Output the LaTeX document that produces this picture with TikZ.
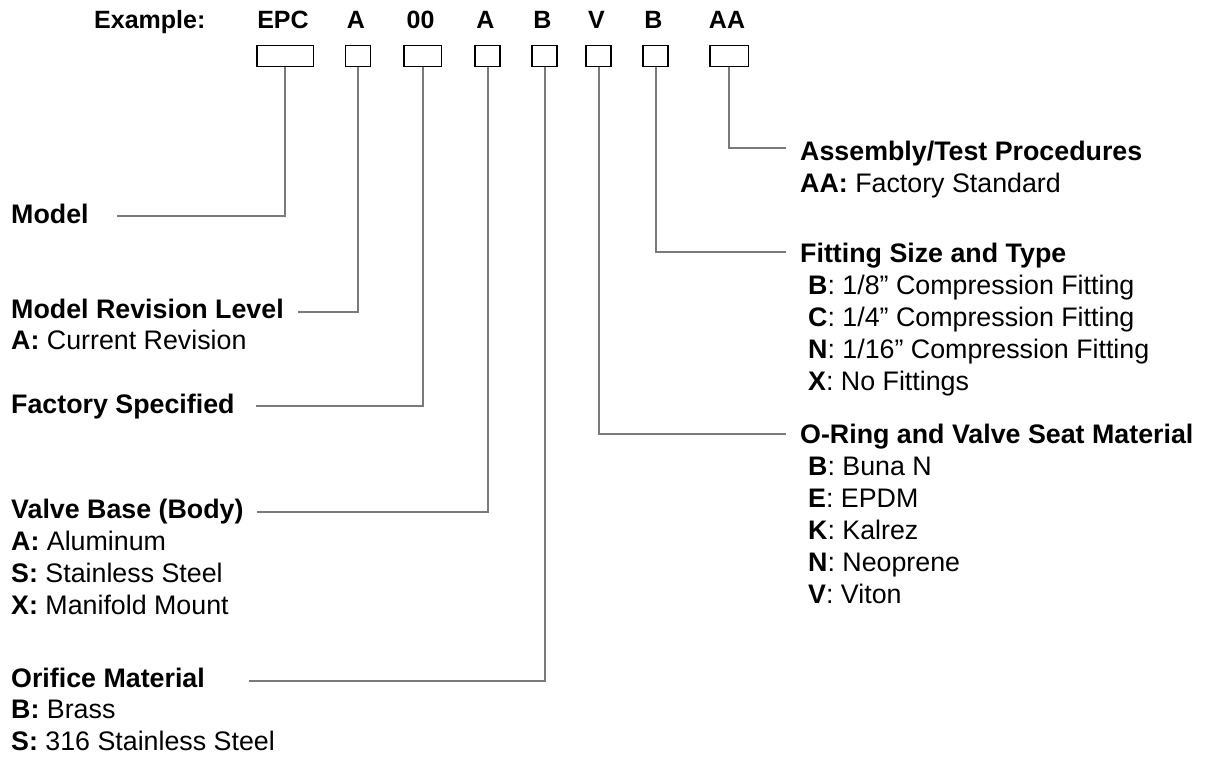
\documentclass[tikz,border=0pt]{standalone}
\usepackage{fontspec}
\setmainfont{Liberation Sans}
\definecolor{leadgray}{HTML}{7A7A7A}
\tikzset{
  code/.style={draw=black,line width=1.5pt,minimum height=21pt,inner sep=0pt},
  head/.style={font=\fontsize{25}{29}\selectfont\bfseries,anchor=base,inner sep=0pt},
  title/.style={font=\fontsize{26.8}{32}\selectfont\bfseries,anchor=base west,inner sep=0pt},
  item/.style={font=\fontsize{26.8}{32}\selectfont,anchor=base west,inner sep=0pt},
  lead/.style={draw=leadgray,line width=2pt},
}
\begin{document}
\begin{tikzpicture}[x=1pt,y=-1pt]
      \useasboundingbox (0,0) rectangle (1205,756);
      % code row
      \node[head,anchor=base west] (ex) at (94,28.5) {Example:};
      \foreach \n/\x/\w/\t in {EPC/285/56.5/EPC,Rev/358/25/A,Fac/422.5/37.5/00,Base/487.5/25/A,
          Orif/544.5/25/B,Seal/598.5/25/V,Fit/655.5/25/B,Proc/729/38.5/AA} {
          \node[code,minimum width=\w pt] (b\n) at (\x,56) {};
          \node[head] (h\n) at (\x-2,28.5) {\t};
        }

      % left side
      \node[title] (model) at (11,223) {Model};
      \node[title] (rev) at (11,318) {Model Revision Level};
      \node[item] (rev1) at (11,349) {\textbf{A:} Current Revision};
      \node[title] (fac) at (11,413) {Factory Specified};
      \node[title] (base) at (11,518) {Valve Base (Body)};
      \foreach \k/\v [count=\i] in {A/Aluminum,S/Stainless Steel,X/Manifold Mount} {
          \node[item] (base\i) at (11,518+32*\i) {\textbf{\k:} \v};
        }
      \node[title] (orif) at (11,687) {Orifice Material};
      \foreach \k/\v [count=\i] in {B/Brass,S/316 Stainless Steel} {
          \node[item] (orif\i) at (11,687+31.5*\i) {\textbf{\k:} \v};
        }

      % right side
      \node[title] (proc) at (800,160) {Assembly/Test Procedures};
      \node[item] (proc1) at (800,192) {\textbf{AA:} Factory Standard};
      \node[title] (fit) at (800,262) {Fitting Size and Type};
      \foreach \k/\v [count=\i] in {B/{1/8'' Compression Fitting},C/{1/4'' Compression Fitting},
          N/{1/16'' Compression Fitting},X/No Fittings} {
          \node[item] (fit\i) at (808,262+32*\i) {\textbf{\k}: \v};
        }
      \node[title] (seal) at (800,443) {O-Ring and Valve Seat Material};
      \foreach \k/\v [count=\i] in {B/Buna N,E/EPDM,K/Kalrez,N/Neoprene,V/Viton} {
          \node[item] (seal\i) at (808,443+32*\i) {\textbf{\k}: \v};
        }

      % leaders
      \coordinate (cModel) at (117,216);
      \coordinate (cRev) at (298,312);
      \coordinate (cFac) at (256,406);
      \coordinate (cBase) at (257,512);
      \coordinate (cOrif) at (249,681);
      \coordinate (cProc) at (786,148);
      \coordinate (cFit) at (786,252);
      \coordinate (cSeal) at (786,434);
      \foreach \n in {Rev,Fac,Base,Orif,Proc,Fit,Seal} {
          \draw[lead] (b\n.south) |- (c\n);
        }
      \draw[lead] (bEPC.south) |- (cModel);
    \end{tikzpicture}
\end{document}
